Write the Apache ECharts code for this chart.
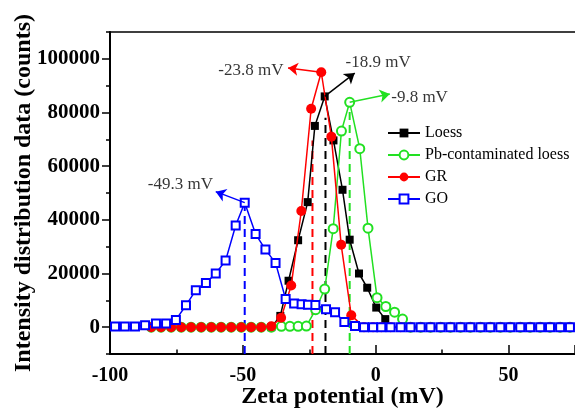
<!DOCTYPE html>
<html>
<head>
<meta charset="utf-8">
<script src="https://cdn.jsdelivr.net/npm/echarts@6/dist/echarts.min.js"></script>
<style>
  html, body { margin: 0; padding: 0; background: #fff; }
  #chart { width: 575px; height: 412px; }
</style>
</head>
<body>
<div id="chart"></div>
<script>
// ---- data ----
const seriesNames = ['Loess', 'Pb-contaminated loess', 'GR', 'GO'];

const zetaTicks = [-100, -50, 0, 50];
const countTicks = [0, 20000, 40000, 60000, 80000, 100000];

const loessZeta   = [-39.3, -35.9, -32.8, -29.2, -25.6, -22.9, -19.2, -15.9, -12.5, -9.8, -6.3, -3.2, 0.2, 3.6, 5.6];
const loessCounts = [0, 4200, 17300, 32400, 46600, 75000, 86000, 69600, 51200, 32600, 20000, 14700, 7300, 3000, 0];

const pbZeta = [-84.5, -80.8, -77.0, -73.2, -69.5, -65.7, -61.9, -58.2, -54.4, -50.6, -46.9, -43.1, -39.3,
  -35.5, -32.3, -29.2, -26.1, -22.6, -19.2, -16.0, -12.9, -9.8, -6.0, -2.9, 0.5, 3.8, 7.1, 10.1,
  13.1, 16.9, 20.6, 24.4, 28.1, 31.9, 35.6, 39.4, 43.1, 46.9, 50.6, 54.4, 58.1, 61.9, 65.6, 69.4, 73.1];
const pbCounts = [0, 0, 0, 0, 0, 0, 0, 0, 0, 0, 0, 0, 0,
  300, 300, 300, 400, 6500, 14200, 36700, 73100, 83800, 66500, 36900, 11000, 7700, 5600, 3000,
  0, 0, 0, 0, 0, 0, 0, 0, 0, 0, 0, 0, 0, 0, 0, 0, 0];

const grZeta = [-84.5, -80.8, -77.0, -73.2, -69.5, -65.7, -61.9, -58.2, -54.4, -50.6, -46.9, -43.1,
  -39.3, -35.6, -31.8, -28.0, -24.3, -20.5, -16.7, -13.0, -9.2,
  -4.4, -1.0, 2.1, 5.6, 9.4, 13.1, 16.9, 20.6, 24.4, 28.1, 31.9, 35.6, 39.4, 43.1, 46.9, 50.6, 54.4, 58.1, 61.9, 65.6, 69.4, 73.1];
const grCounts = [0, 0, 0, 0, 0, 0, 0, 0, 0, 0, 0, 0,
  300, 3500, 15500, 43300, 81400, 95000, 71000, 30700, 4400,
  0, 0, 0, 0, 0, 0, 0, 0, 0, 0, 0, 0, 0, 0, 0, 0, 0, 0, 0, 0, 0, 0];

const goZeta = [-98.1, -94.4, -90.6, -86.8, -82.7, -78.9, -75.2, -71.4, -67.7, -63.9, -60.2, -56.5, -52.7,
  -49.3, -45.2, -41.5, -37.7, -33.9, -30.7, -27.9, -25.5, -22.7, -18.7, -15.3, -11.8, -7.8, -4.4, -1.0,
  2.1, 5.6, 9.4, 13.1, 16.9, 20.6, 24.4, 28.1, 31.9, 35.6, 39.4, 43.1, 46.9, 50.6, 54.4, 58.1, 61.9, 65.6, 69.4, 73.1];
const goCounts = [250, 250, 250, 700, 1400, 1400, 2700, 8150, 13800, 16500, 20000, 24800, 37900,
  46400, 34700, 28900, 23950, 10500, 8800, 8500, 8400, 8300, 6700, 5600, 1900, 400, 0, 0,
  0, 0, 0, 0, 0, 0, 0, 0, 0, 0, 0, 0, 0, 0, 0, 0, 0, 0, 0, 0];

// peak potentials (mV) quoted next to each curve
const peakZeta = [-18.9, -9.8, -23.8, -49.3];
// upper end of each dashed drop line (counts)
const dropTop = [78000, 81800, 69600, 44800];
// arrow heads and text centres of the call-outs
const arrowTipZeta   = [-7.9, 5.3, -33.0, -60.2];
const arrowTipCounts = [94700, 86900, 96600, 50500];
const calloutZeta    = [0.9, 16.5, -47.0, -73.5];
const calloutCounts  = [98500, 85600, 95600, 53000];

// ---- styling ----
const colors = ['#000000', '#22e022', '#ff0000', '#0000ff'];
const symbols = ['rect', 'emptyCircle', 'circle', 'emptyRect'];
const symbolSizes = [8, 9, 10, 8];
const serif = 'Liberation Serif';
const Y_MIN = -10000, Y_MAX = 110000, X_MIN = -100, X_MAX = 75;

const pairs = (xs, ys) => xs.map((x, i) => [x, ys[i]]);
const curves = [
  pairs(loessZeta, loessCounts),
  pairs(pbZeta, pbCounts),
  pairs(grZeta, grCounts),
  pairs(goZeta, goCounts)
];
const peakPoint = c => c.reduce((best, p) => (p[1] > best[1] ? p : best), c[0]);

const series = [];

// dashed drop lines at each peak potential
peakZeta.forEach((z, i) => {
  series.push({
    name: seriesNames[i] + ' peak',
    type: 'line',
    data: [[z, Y_MIN], [z, dropTop[i]]],
    symbol: 'none',
    silent: true,
    lineStyle: { color: colors[i], width: 2, type: [8, 5] },
    z: 1
  });
});

// measured distributions
curves.forEach((c, i) => {
  series.push({
    name: seriesNames[i],
    type: 'line',
    data: c,
    symbol: symbols[i],
    symbolSize: symbolSizes[i],
    showSymbol: true,
    lineStyle: { color: colors[i], width: 1.5 },
    itemStyle: { color: colors[i], borderWidth: 1.6 },
    z: 3 + i
  });
});

// arrows from each peak to its call-out
series.push({
  type: 'lines',
  coordinateSystem: 'cartesian2d',
  silent: true,
  symbol: ['none', 'arrow'],
  symbolSize: 10,
  lineStyle: { width: 1.5, opacity: 1, curveness: 0 },
  z: 10,
  data: curves.map((c, i) => ({
    coords: [peakPoint(c), [arrowTipZeta[i], arrowTipCounts[i]]],
    lineStyle: { color: colors[i] },
    itemStyle: { color: colors[i] }
  }))
});

// call-out texts
series.push({
  type: 'scatter',
  silent: true,
  symbolSize: 0,
  z: 11,
  data: peakZeta.map((z, i) => ({
    value: [calloutZeta[i], calloutCounts[i]],
    label: {
      show: true,
      position: 'inside',
      formatter: z.toFixed(1) + ' mV',
      fontFamily: serif,
      fontSize: 17,
      color: '#000'
    }
  }))
});

const plotBox = { left: 110, top: 32, right: 0, bottom: 58, containLabel: false, outerBoundsMode: 'none' };
const tickLine = { color: '#000', width: 1.5 };

const chart = echarts.init(document.getElementById('chart'), null, { renderer: 'canvas' });
chart.setOption({
  animation: false,
  backgroundColor: '#fff',
  // second grid shares the same box and only carries the minor-tick axes
  grid: [plotBox, Object.assign({}, plotBox)],
  legend: {
    data: seriesNames,
    orient: 'vertical',
    left: 382,
    top: 120,
    itemWidth: 32,
    itemHeight: 11,
    itemGap: 6,
    textStyle: { fontFamily: serif, fontSize: 16, color: '#000', lineHeight: 16 }
  },
  xAxis: [
    {
      gridIndex: 0, type: 'value', min: X_MIN, max: X_MAX, interval: 50, position: 'bottom',
      name: 'Zeta potential (mV)', nameLocation: 'middle', nameGap: 31, nameMoveOverlap: false,
      nameTextStyle: { fontFamily: serif, fontSize: 24, fontWeight: 'bold', color: '#000' },
      axisLine: { show: true, onZero: false, lineStyle: { color: '#000', width: 2 } },
      axisTick: { show: true, inside: true, length: 9, lineStyle: tickLine },
      axisLabel: {
        margin: 12, fontFamily: serif, fontSize: 20, fontWeight: 'bold', color: '#000',
        formatter: v => (zetaTicks.includes(v) ? String(v) : '')
      },
      splitLine: { show: false }
    },
    {
      gridIndex: 0, type: 'value', min: X_MIN, max: X_MAX, position: 'top',
      axisLine: { show: true, onZero: false, lineStyle: { color: '#000', width: 1.5 } },
      axisTick: { show: false },
      axisLabel: { show: false },
      splitLine: { show: false }
    },
    {
      gridIndex: 1, type: 'value', min: X_MIN, max: X_MAX, interval: 25, position: 'bottom',
      axisLine: { show: false, onZero: false },
      axisTick: { show: true, inside: true, length: 4.5, lineStyle: tickLine },
      axisLabel: { show: false },
      splitLine: { show: false }
    }
  ],
  yAxis: [
    {
      gridIndex: 0, type: 'value', min: Y_MIN, max: Y_MAX, position: 'left',
      name: 'Intensity distribution data (counts)', nameLocation: 'middle', nameGap: 74, nameMoveOverlap: false,
      nameTextStyle: { fontFamily: serif, fontSize: 24, fontWeight: 'bold', color: '#000' },
      axisLine: { show: true, onZero: false, lineStyle: { color: '#000', width: 2 } },
      axisTick: { show: true, length: 8, customValues: countTicks, lineStyle: tickLine },
      axisLabel: {
        margin: 10, customValues: countTicks,
        fontFamily: serif, fontSize: 21, fontWeight: 'bold', color: '#000',
        formatter: v => String(v)
      },
      splitLine: { show: false }
    },
    {
      gridIndex: 1, type: 'value', min: Y_MIN, max: Y_MAX, interval: 10000, position: 'left',
      axisLine: { show: false, onZero: false },
      axisTick: { show: true, length: 4, lineStyle: tickLine },
      axisLabel: { show: false },
      splitLine: { show: false }
    }
  ],
  series: series
});
</script>
</body>
</html>
